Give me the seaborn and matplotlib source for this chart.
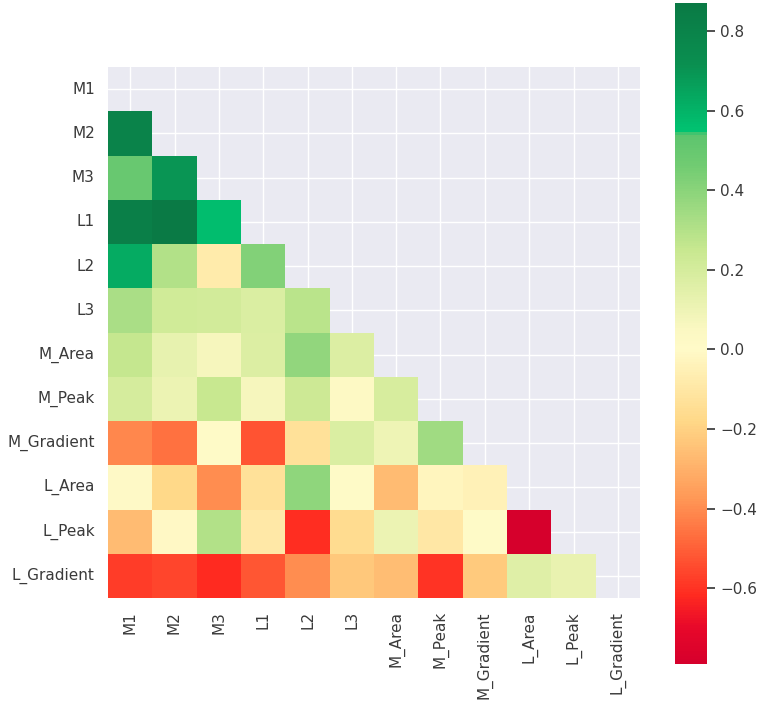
import numpy as np
import pandas as pd
import seaborn as sns
import matplotlib.pyplot as plt
from matplotlib.colors import LinearSegmentedColormap

labels = ["M1", "M2", "M3", "L1", "L2", "L3", "M_Area", "M_Peak",
          "M_Gradient", "L_Area", "L_Peak", "L_Gradient"]

# lower triangle, row by row (values below the diagonal)
row_M2 = [0.80]
row_M3 = [0.50, 0.70]
row_L1 = [0.83, 0.87, 0.57]
row_L2 = [0.63, 0.30, -0.08, 0.42]
row_L3 = [0.32, 0.22, 0.21, 0.18, 0.28]
row_M_Area = [0.26, 0.13, 0.07, 0.17, 0.38, 0.17]
row_M_Peak = [0.20, 0.11, 0.25, 0.07, 0.23, 0.03, 0.19]
row_M_Gradient = [-0.41, -0.46, 0.01, -0.53, -0.13, 0.18, 0.10, 0.35]
row_L_Area = [0.02, -0.18, -0.40, -0.13, 0.39, 0.01, -0.27, -0.03, -0.05]
row_L_Peak = [-0.27, -0.01, 0.30, -0.09, -0.61, -0.16, 0.11, -0.10, 0.01, -0.79]
row_L_Gradient = [-0.58, -0.56, -0.62, -0.52, -0.40, -0.23, -0.26, -0.60, -0.22, 0.16, 0.12]

rows = [[], row_M2, row_M3, row_L1, row_L2, row_L3, row_M_Area, row_M_Peak,
        row_M_Gradient, row_L_Area, row_L_Peak, row_L_Gradient]

n = len(labels)
corr = np.eye(n)
for i, r in enumerate(rows):
    for j, v in enumerate(r):
        corr[i, j] = v
        corr[j, i] = v
df = pd.DataFrame(corr, index=labels, columns=labels)
mask = np.triu(np.ones_like(corr, dtype=bool))

# custom red-yellow-green map
cmap = LinearSegmentedColormap.from_list("ryg", [
    (0.0, "#d6002c"),
    (0.054, "#e8082a"),
    (0.102, "#ff2a20"),
    (0.187, "#ff6a3c"),
    (0.253, "#ff9a58"),
    (0.367, "#ffd888"),
    (0.476, "#fffac8"),
    (0.506, "#fbf8c2"),
    (0.627, "#c8e890"),
    (0.753, "#72cc72"),
    (0.803, "#5cc46e"),
    (0.806, "#00c472"),
    (0.91, "#0a8f50"),
    (1.0, "#0a7a45"),
])

sns.set_theme(style="darkgrid")
fig = plt.figure(figsize=(7.62, 7.12), dpi=100)
ax = fig.add_axes([108 / 762, 114 / 712, 532 / 762, 531 / 712])
cax = fig.add_axes([675 / 762, 48 / 712, 32 / 762, 661 / 712])

sns.heatmap(df, mask=mask, cmap=cmap, ax=ax, cbar_ax=cax)
ax.grid(True)
ax.set_axisbelow(True)
ax.set_xticks(np.arange(n) + 0.5)
ax.set_xticklabels(labels, rotation=90)
ax.set_yticklabels(labels, rotation=0)
ax.tick_params(colors="#3a3a3a")
cax.tick_params(right=True, length=6, colors="#3a3a3a")

fig.savefig("out.png", dpi=100)
plt.close()
